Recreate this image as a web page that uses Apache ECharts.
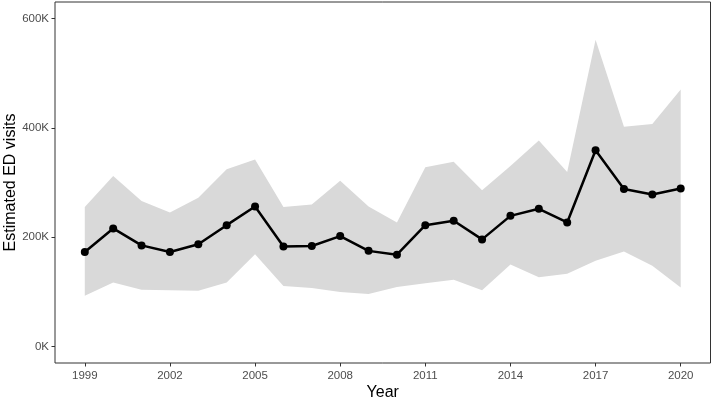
<!DOCTYPE html>
<html>
<head>
<meta charset="utf-8">
<script src="https://cdn.jsdelivr.net/npm/echarts@6/dist/echarts.min.js"></script>
<style>html,body{margin:0;padding:0;background:#fff}#c{width:714px;height:398px}</style>
</head>
<body>
<div id="c"></div>
<script>
const years = [1999,2000,2001,2002,2003,2004,2005,2006,2007,2008,2009,2010,2011,2012,2013,2014,2015,2016,2017,2018,2019,2020];
const estimate = [173000,216000,185000,173000,187000,222000,256000,183000,184000,202000,175000,168000,222000,230000,196000,239000,252000,227000,359000,288000,278000,289000];
const lower = [93000,117000,104000,103000,102000,117000,169000,111000,107000,100000,96000,109000,116000,122000,103000,150000,127000,133000,157000,174000,148000,108000];
const upper = [255000,312000,266000,245000,272000,324000,342000,255000,260000,303000,256000,227000,328000,338000,286000,330000,377000,319000,561000,402000,407000,470000];
const xTicks = [1999,2002,2005,2008,2011,2014,2017,2020];
const yTicks = [0,200000,400000,600000];

const chart = echarts.init(document.getElementById('c'), null, {renderer:'canvas'});
const font = 'Liberation Sans, Arial, sans-serif';
chart.setOption({
  animation: false,
  backgroundColor: '#fff',
  grid: {left: 55, right: 3.5, top: 2, bottom: 35, outerBoundsMode: 'none', containLabel: false,
         show: true, borderColor: '#333333', borderWidth: 1, backgroundColor: 'transparent'},
  xAxis: {
    type: 'value', min: 1997.95, max: 2021.05,
    name: 'Year', nameLocation: 'middle', nameGap: 22, nameMoveOverlap: false,
    nameTextStyle: {fontFamily: font, fontSize: 16, color: '#000'},
    axisLine: {show: false, onZero: false},
    splitLine: {show: false},
    axisTick: {show: true, length: 3.5, lineStyle: {color: '#333333'}, customValues: xTicks},
    axisLabel: {fontFamily: font, fontSize: 11.5, color: '#4D4D4D', margin: 7, customValues: xTicks, formatter: v => String(v)}
  },
  yAxis: {
    type: 'value', min: -30000, max: 630000,
    name: 'Estimated ED visits', nameLocation: 'middle', nameGap: 36, nameMoveOverlap: false,
    nameTextStyle: {fontFamily: font, fontSize: 16, color: '#000'},
    axisLine: {show: false, onZero: false},
    splitLine: {show: false},
    axisTick: {show: true, length: 3.5, lineStyle: {color: '#333333'}, customValues: yTicks},
    axisLabel: {fontFamily: font, fontSize: 11.5, color: '#4D4D4D', margin: 6, customValues: yTicks, formatter: v => (v/1000) + 'K'}
  },
  series: [
    {type: 'custom', silent: true, z: 1,
     data: years.map((y,i) => [y, lower[i], upper[i]]),
     renderItem: function (params, api) {
       if (params.dataIndex !== 0) return null;
       const pts = [];
       for (let i = 0; i < years.length; i++) pts.push(api.coord([years[i], upper[i]]));
       for (let i = years.length - 1; i >= 0; i--) pts.push(api.coord([years[i], lower[i]]));
       return {type: 'polygon', shape: {points: pts}, style: {fill: '#D9D9D9', stroke: null}};
     }},
    {type: 'line', symbol: 'circle', symbolSize: 8, z: 5,
     lineStyle: {color: '#000', width: 2.5}, itemStyle: {color: '#000'},
     data: years.map((y,i) => [y, estimate[i]])}
  ]
});
</script>
</body>
</html>
